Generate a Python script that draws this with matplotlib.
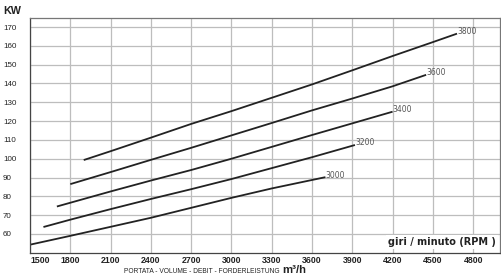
import matplotlib
matplotlib.use("Agg")
import matplotlib.pyplot as plt
from matplotlib import font_manager

# giri/minuto -> (portata m3/h, potenza KW)
rpm = ["3000", "3200", "3400", "3600", "3800"]
portata = [
    [1500, 1800, 2100, 2400, 2700, 3000, 3300, 3700],
    [1600, 1800, 2100, 2400, 2700, 3000, 3300, 3600, 3920],
    [1700, 1800, 2100, 2400, 2700, 3000, 3300, 3600, 3900, 4200],
    [1800, 2100, 2400, 2700, 3000, 3300, 3600, 3900, 4200, 4450],
    [1900, 2100, 2400, 2700, 3000, 3300, 3600, 3900, 4200, 4500, 4680],
]
kw = [
    [54.3, 59.0, 63.8, 68.6, 73.9, 79.2, 84.2, 90.2],
    [63.7, 67.6, 73.2, 78.6, 83.8, 89.2, 95.0, 100.8, 107.3],
    [74.6, 76.6, 82.6, 88.4, 94.0, 100.0, 106.3, 112.6, 118.8, 125.0],
    [86.5, 92.9, 99.4, 105.8, 112.4, 119.0, 125.7, 132.0, 138.5, 144.6],
    [99.3, 104.0, 111.2, 118.5, 125.3, 132.4, 139.5, 147.0, 154.6, 162.0, 166.5],
]
xticks = [1500, 1800, 2100, 2400, 2700, 3000, 3300, 3600, 3900, 4200, 4500, 4800]
yticks = [60, 70, 80, 90, 100, 110, 120, 130, 140, 150, 160, 170]

# condensed font if present, otherwise plain Liberation Sans a bit smaller
installed = {f.name for f in font_manager.fontManager.ttflist}
if "Liberation Sans Narrow" in installed:
    narrow, shrink = "Liberation Sans Narrow", 1.0
else:
    narrow, shrink = "Liberation Sans", 0.82

fig = plt.figure(figsize=(5.02, 2.79), dpi=100)
ax = fig.add_axes([0.0598, 0.094, 0.9362, 0.8427])

for xs, ys, lab in zip(portata, kw, rpm):
    ax.plot(xs, ys, color="#222222", lw=1.3, solid_capstyle="butt")
    ax.annotate(lab, (xs[-1], ys[-1]), xytext=(0, 1.5), textcoords="offset points",
                fontsize=5.5, color="#555555", ha="left", va="center")

ax.set_xlim(1500, 5000)
ax.set_ylim(50, 175)
ax.set_xticks(xticks)
ax.set_yticks(yticks)
ax.grid(True, color="#bdbdbd", lw=0.9)
ax.set_axisbelow(True)
ax.tick_params(length=0)
ax.tick_params(axis="x", pad=2)
ax.tick_params(axis="y", pad=19.5)
for t in ax.get_xticklabels():
    t.set_fontfamily("Liberation Sans")
    t.set_fontweight("bold")
    t.set_fontsize(6.3)
    t.set_color("#222222")
ax.get_xticklabels()[0].set_ha("left")
for t in ax.get_yticklabels():
    t.set_fontfamily("Liberation Sans")
    t.set_fontsize(5.8)
    t.set_color("#222222")
    t.set_ha("left")
for s in ax.spines.values():
    s.set_color("#777777")
    s.set_linewidth(0.9)
ax.spines["left"].set_color("#444444")
ax.spines["bottom"].set_color("#444444")

fig.text(0.006, 0.978, "KW", family=narrow, fontweight="bold", fontsize=9.5 * shrink,
         ha="left", va="top", color="#222222")
fig.text(0.558, 0.027, "PORTATA - VOLUME - DEBIT - FORDERLEISTUNG", family=narrow,
         fontsize=5.8 * shrink, ha="right", va="center", color="#222222")
fig.text(0.563, 0.032, "m³/h", family=narrow, fontweight="bold", fontsize=10 * shrink,
         ha="left", va="center", color="#222222")
ax.text(0.992, 0.045, "giri / minuto (RPM )", transform=ax.transAxes,
        fontsize=7.0, fontweight="bold", ha="right", va="center", color="#222222",
        bbox=dict(facecolor="white", edgecolor="none", pad=1.5))

fig.savefig("out.png", dpi=100)
